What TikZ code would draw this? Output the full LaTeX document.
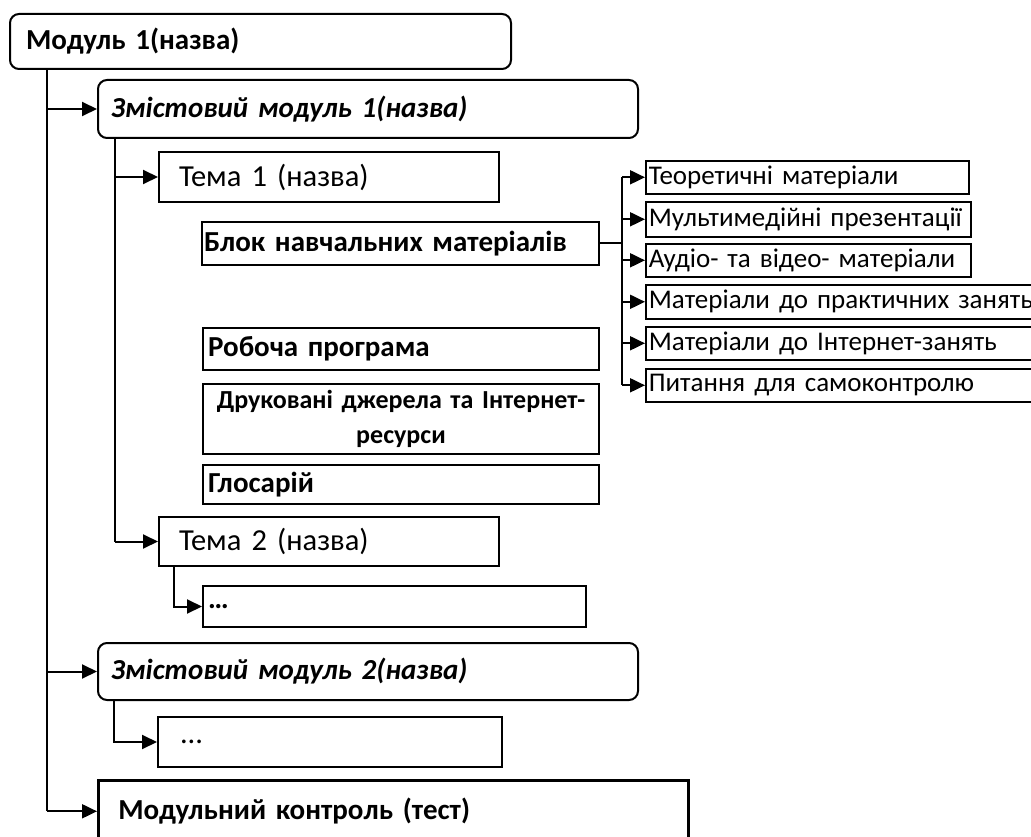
\documentclass[tikz,border=0pt]{standalone}
\usepackage{fontspec}
\setmainfont{Carlito}[WordSpace=0.8]
\usetikzlibrary{arrows.meta}
\tikzset{
  box/.style={draw, line width=2pt, anchor=north west, inner xsep=0pt, inner ysep=0pt, align=left},
  rbox/.style={box, rounded corners=9pt},
  sbox/.style={draw, line width=1.6pt, anchor=north west, inner ysep=0pt, inner xsep=3pt, align=left, font=\fontsize{27}{30}\selectfont},
  arr/.style={line width=2pt, -{Triangle[length=15pt,width=14pt]}},
  fb/.style={font=\fontsize{29}{34}\selectfont\bfseries},
  fbi/.style={font=\fontsize{29}{34}\selectfont\bfseries\itshape},
  fr/.style={font=\fontsize{30.5}{35}\selectfont},
}
\begin{document}
\begin{tikzpicture}[x=1pt,y=-1pt]
\useasboundingbox (0,0) rectangle (1031,837);
\clip (0,0) rectangle (1031,837);
% main column
\node[rbox, fb, minimum width=501pt, minimum height=55pt, text width=469pt, inner xsep=16pt] (m1) at (9,13) {Модуль 1(назва)};
\node[rbox, fbi, minimum width=540pt, minimum height=58pt, text width=514pt, inner xsep=13pt] (zm1) at (97,79) {Змістовий модуль 1(назва)};
\node[box, fr, minimum width=340pt, minimum height=50pt, text width=300pt, inner xsep=20pt] (t1) at (158,151) {Тема 1 (назва)};
\node[box, fb, minimum width=397pt, minimum height=43pt, text width=393pt, inner xsep=2pt] (blok) at (201,221) {Блок навчальних матеріалів};
\node[box, fb, minimum width=396pt, minimum height=42pt, text width=386pt, inner xsep=5pt] (rob) at (202,327) {Робоча програма};
\node[box, font=\fontsize{26}{35}\selectfont\bfseries, align=center, minimum width=396pt, minimum height=70pt, text width=392pt, inner xsep=2pt] (druk) at (202,383) {Друковані джерела та Інтернет-\\ресурси};
\node[box, fb, minimum width=396pt, minimum height=39pt, text width=386pt, inner xsep=5pt] (glos) at (202,464) {Глосарій};
\node[box, fr, minimum width=340pt, minimum height=49pt, text width=300pt, inner xsep=20pt] (t2) at (158,516) {Тема 2 (назва)};
\node[box, fb, minimum width=383pt, minimum height=41pt, text width=373pt, inner xsep=5pt] (d1) at (202,585) {…};
\node[rbox, fbi, minimum width=540pt, minimum height=57pt, text width=514pt, inner xsep=13pt] (zm2) at (97,642) {Змістовий модуль 2(назва)};
\node[box, fr, minimum width=342pt, minimum height=50pt, text width=300pt, inner xsep=22pt] (d2) at (157,716) {...};
\node[box, fb, line width=2.6pt, minimum width=590pt, minimum height=62pt, text width=550pt, inner xsep=20pt] (mk) at (97,779) {Модульний контроль (тест)};
% right column
\node[sbox, minimum width=323pt, minimum height=33pt, text width=317pt] (r1) at (645,160) {Теоретичні матеріали};
\node[sbox, minimum width=325pt, minimum height=35pt, text width=319pt] (r2) at (645,201) {Мультимедійні презентації};
\node[sbox, minimum width=325pt, minimum height=33pt, text width=319pt] (r3) at (645,243) {Аудіо- та відео- матеріали};
\node[sbox, minimum width=400pt, minimum height=34pt, text width=394pt] (r4) at (645,284) {Матеріали до практичних занять};
\node[sbox, minimum width=400pt, minimum height=33pt, text width=394pt] (r5) at (645,326) {Матеріали до Інтернет-занять};
\node[sbox, minimum width=400pt, minimum height=33pt, text width=394pt] (r6) at (645,368) {Питання для самоконтролю};
% trunk connectors
\coordinate (tr) at (47,0);
\draw[line width=2pt] (m1.south -| tr) -- (mk.west -| tr);
\draw[arr] (zm1.west -| tr) -- (zm1.west);
\draw[arr] (zm2.west -| tr) -- (zm2.west);
\draw[arr] (mk.west -| tr) -- (mk.west);
% content module 1
\coordinate (c1) at (115,0);
\draw[line width=2pt] (zm1.south -| c1) -- (t2.west -| c1);
\draw[arr] (t1.west -| c1) -- (t1.west);
\draw[arr] (t2.west -| c1) -- (t2.west);
% theme 2
\coordinate (c2) at (174,0);
\draw[arr] (t2.south -| c2) |- (d1.west);
% content module 2
\coordinate (c3) at (114,0);
\draw[arr] (zm2.south -| c3) |- (d2.west);
% block branches
\coordinate (c4) at (622,0);
\draw[line width=2pt] (blok.east) -- (blok.east -| c4);
\draw[line width=2pt] (r1.west -| c4) -- (r6.west -| c4);
\foreach \r in {r1,r2,r3,r4,r5,r6} \draw[arr] (\r.west -| c4) -- (\r.west);
\end{tikzpicture}
\end{document}
